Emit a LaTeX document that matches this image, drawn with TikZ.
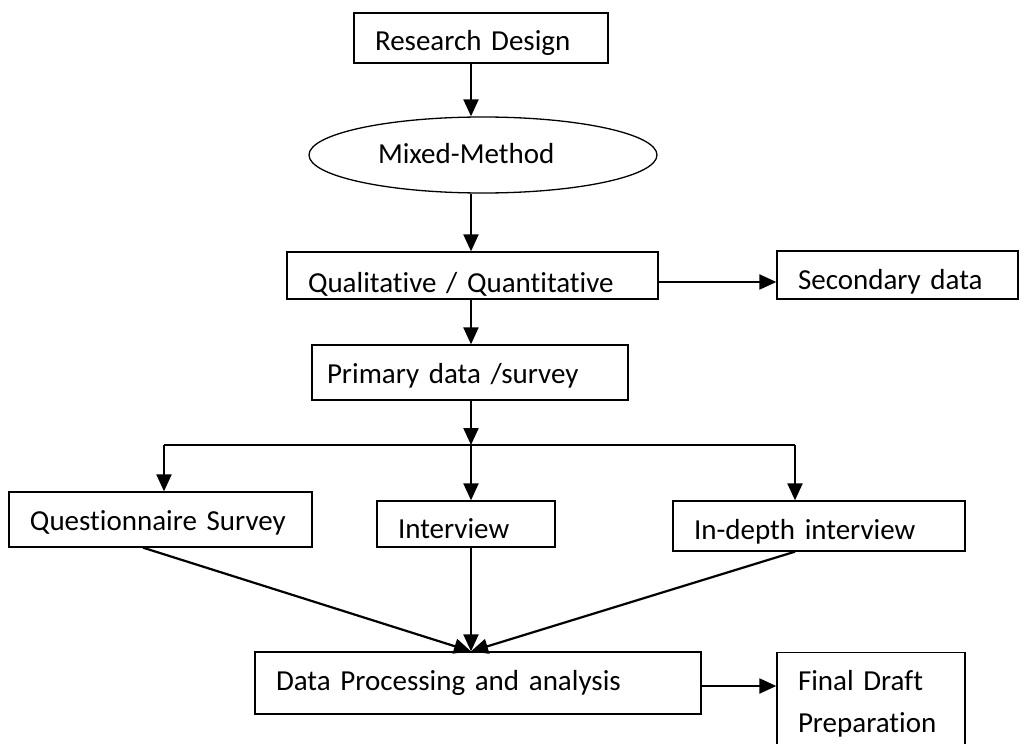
\documentclass[tikz,border=0pt]{standalone}
\usepackage{fontspec}
\setmainfont{Carlito}[Ligatures=NoCommon]
\usepackage{tikz}
\usetikzlibrary{arrows.meta,shapes.geometric}

\tikzset{
  box/.style={draw, line width=1.3pt, align=left, inner xsep=21pt, inner ysep=0pt},
  txt/.style={text height=#1, text depth=6pt},
  arr/.style={line width=2.2pt, -{Triangle[width=15pt,length=17pt]}},
  link/.style={line width=2.2pt},
}

\begin{document}
\begin{tikzpicture}[x=1pt, y=-1pt, font=\fontsize{29}{42}\selectfont]
    \useasboundingbox (0,0) rectangle (1021,744);
    \node[box, txt=30pt, text width=212pt, minimum height=50pt] (design) at (481,38) {Research Design};
    \node[draw, ellipse, line width=1.3pt, inner sep=0pt, txt=22pt, align=left, text width=210pt,
      minimum width=348pt, minimum height=76pt] (mixed) at (483,155) {Mixed-Method};
    \node[box, txt=40pt, text width=329pt, minimum height=47pt] (qual) at (472.5,275.5) {Qualitative / Quantitative};
    \node[box, txt=34pt, text width=199pt, minimum height=48pt] (sec) at (897.5,275) {Secondary data};
    \node[box, txt=27pt, inner xsep=15pt, text width=286pt, minimum height=55pt] (primary) at (470,372.5) {Primary data /survey};
    \node[box, txt=27pt, text width=261pt, minimum height=55pt] (quest) at (160.5,519.5) {Questionnaire Survey};
    \node[box, txt=34pt, text width=136pt, minimum height=46pt] (interview) at (466,524) {Interview};
    \node[box, txt=32pt, text width=250pt, minimum height=50pt] (indepth) at (819,526) {In-depth interview};
    \node[box, txt=20pt, text width=404pt, minimum height=62pt] (data) at (478,683) {Data Processing and analysis};
    \node[box, text width=146pt, minimum height=103pt, anchor=north] (final) at (871,652) {Final Draft\\Preparation};

    \coordinate (spine) at (471,0);
    \coordinate (lsplit) at (164,445);
    \coordinate (split) at (471,445);
    \coordinate (rsplit) at (795,445);

    \draw[arr] (design.south -| spine) -- (mixed.north -| spine);
    \draw[arr] (mixed.south -| spine) -- (qual.north -| spine);
    \draw[arr] ([yshift=-6.5pt]qual.east) -- ([yshift=-6.5pt]qual.east -| sec.west);
    \draw[arr] (qual.south -| spine) -- (primary.north -| spine);
    \draw[arr] (primary.south -| spine) -- (split);
    \draw[link] (lsplit) -- (rsplit);
    \draw[arr] (lsplit) -- (lsplit |- quest.north);
    \draw[arr] (split) -- (split |- interview.north);
    \draw[arr] (rsplit) -- (rsplit |- indepth.north);

    \draw[arr] ([xshift=-17.5pt]quest.south) -- (data.north -| spine);
    \draw[arr] (interview.south -| spine) -- (data.north -| spine);
    \draw[arr] (rsplit |- indepth.south) -- (data.north -| spine);
    \draw[arr] ([yshift=-3pt]data.east) -- ([yshift=-3pt]data.east -| final.west);
  \end{tikzpicture}
\end{document}
